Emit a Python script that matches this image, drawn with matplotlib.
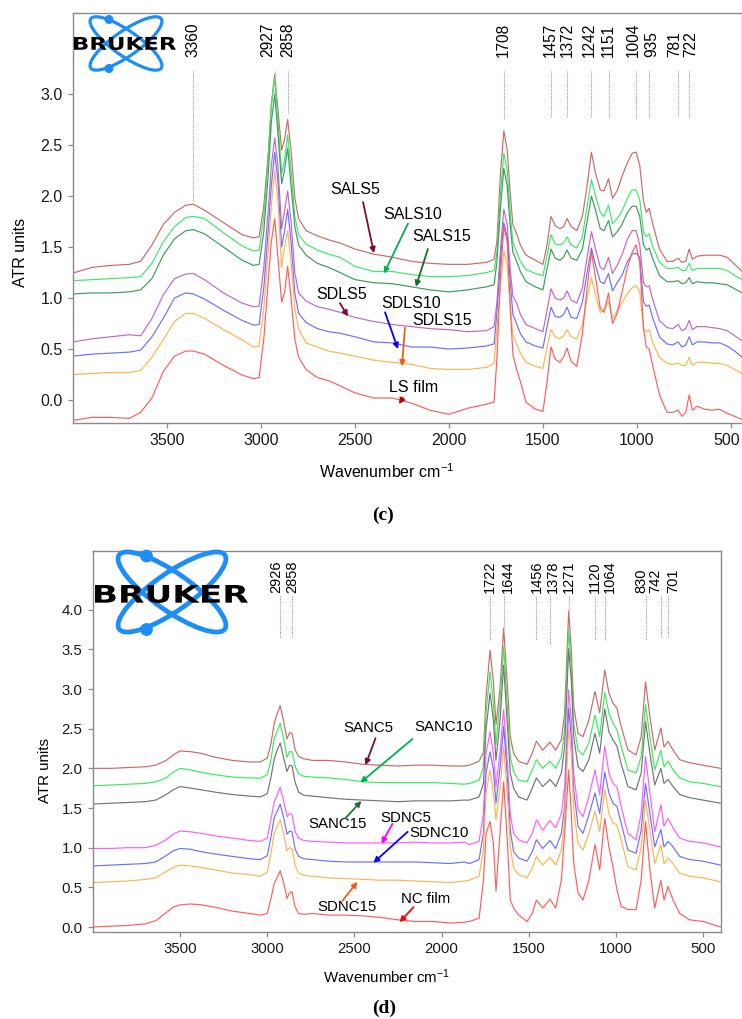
import matplotlib
matplotlib.use("Agg")
import matplotlib.pyplot as plt
from matplotlib.patches import Ellipse, Circle, PathPatch
from matplotlib.textpath import TextPath
from matplotlib.font_manager import FontProperties
from matplotlib.transforms import Affine2D, ScaledTranslation

plt.rcParams["font.family"] = ["Liberation Sans", "DejaVu Sans"]
plt.rcParams["mathtext.default"] = "regular"

# ---------------------------------------------------------------- panel (c)
WN_C = [4000, 3900, 3800, 3700, 3640, 3580, 3520, 3460, 3400, 3360,
        3300, 3200, 3100, 3040, 3010, 2985, 2960, 2945, 2927, 2910,
        2890, 2875, 2858, 2840, 2820, 2800, 2760, 2700, 2640, 2580,
        2500, 2400, 2300, 2200, 2100, 2000, 1900,
        1800, 1760, 1745, 1725, 1708, 1690, 1675, 1660, 1640, 1620,
        1590, 1540, 1500, 1480, 1457, 1435, 1410, 1390, 1372, 1350,
        1320, 1290, 1265, 1242, 1220, 1195, 1175, 1151, 1130, 1105,
        1080, 1050, 1025, 1004, 985, 965, 950, 935, 915, 880,
        840, 810, 781, 760, 740, 722, 705, 680, 640, 600,
        560, 520, 480, 440]

SALS5 = [1.245, 1.30, 1.32, 1.33, 1.36, 1.52, 1.72, 1.84, 1.91, 1.92,
         1.86, 1.74, 1.62, 1.59, 1.60, 1.90, 2.45, 2.90, 3.19, 2.85,
         2.45, 2.55, 2.75, 2.45, 1.98, 1.78, 1.66, 1.61, 1.57, 1.54,
         1.48, 1.43, 1.40, 1.36, 1.34, 1.33, 1.33,
         1.35, 1.38, 1.55, 2.25, 2.64, 2.45, 2.05, 1.72, 1.63, 1.52,
         1.42, 1.37, 1.33, 1.50, 1.80, 1.71, 1.68, 1.70, 1.78, 1.70,
         1.66, 1.80, 2.10, 2.43, 2.22, 2.06, 2.05, 2.17, 1.98, 2.05,
         2.19, 2.33, 2.42, 2.43, 2.30, 1.95, 1.84, 1.88, 1.72, 1.48,
         1.36, 1.36, 1.39, 1.35, 1.36, 1.48, 1.38, 1.41, 1.42, 1.42,
         1.42, 1.40, 1.33, 1.26]
SALS10 = [1.17, 1.18, 1.19, 1.20, 1.21, 1.34, 1.55, 1.70, 1.79, 1.80,
          1.78, 1.64, 1.51, 1.46, 1.47, 1.80, 2.40, 2.88, 3.16, 2.75,
          2.22, 2.35, 2.60, 2.25, 1.80, 1.62, 1.53, 1.47, 1.43, 1.40,
          1.31, 1.26, 1.26, 1.23, 1.21, 1.21, 1.22,
          1.25, 1.27, 1.45, 2.05, 2.42, 2.25, 1.85, 1.55, 1.45, 1.36,
          1.28, 1.24, 1.22, 1.40, 1.62, 1.53, 1.52, 1.54, 1.60, 1.52,
          1.49, 1.60, 1.90, 2.16, 2.00, 1.84, 1.80, 1.91, 1.73, 1.78,
          1.85, 1.98, 2.06, 2.06, 1.96, 1.65, 1.60, 1.63, 1.50, 1.35,
          1.29, 1.29, 1.30, 1.27, 1.27, 1.34, 1.27, 1.29, 1.29, 1.29,
          1.29, 1.27, 1.22, 1.18]
SALS15 = [1.04, 1.05, 1.05, 1.06, 1.08, 1.19, 1.42, 1.58, 1.66, 1.67,
          1.63, 1.50, 1.37, 1.32, 1.33, 1.65, 2.25, 2.72, 3.00, 2.62,
          2.12, 2.25, 2.47, 2.10, 1.70, 1.52, 1.42, 1.34, 1.30, 1.25,
          1.18, 1.15, 1.14, 1.11, 1.08, 1.06, 1.08,
          1.11, 1.13, 1.35, 1.90, 2.27, 2.10, 1.72, 1.45, 1.36, 1.26,
          1.16, 1.11, 1.08, 1.27, 1.48, 1.39, 1.37, 1.40, 1.47, 1.39,
          1.37, 1.48, 1.75, 2.00, 1.86, 1.68, 1.66, 1.76, 1.60, 1.65,
          1.72, 1.84, 1.90, 1.90, 1.80, 1.52, 1.47, 1.49, 1.38, 1.22,
          1.16, 1.16, 1.17, 1.14, 1.15, 1.20, 1.14, 1.16, 1.15, 1.15,
          1.14, 1.13, 1.09, 1.05]
SDLS5 = [0.57, 0.60, 0.62, 0.64, 0.63, 0.80, 1.03, 1.19, 1.235, 1.24,
         1.18, 1.05, 0.95, 0.915, 0.92, 1.30, 1.90, 2.30, 2.57, 2.30,
         1.68, 1.85, 2.05, 1.75, 1.25, 1.05, 0.97, 0.915, 0.89, 0.86,
         0.81, 0.77, 0.74, 0.72, 0.70, 0.69, 0.67,
         0.68, 0.72, 0.95, 1.50, 1.87, 1.72, 1.30, 1.02, 0.95, 0.84,
         0.74, 0.70, 0.67, 0.86, 1.09, 1.00, 0.98, 1.00, 1.07, 0.98,
         0.95, 1.10, 1.40, 1.65, 1.48, 1.30, 1.28, 1.40, 1.24, 1.32,
         1.42, 1.58, 1.66, 1.66, 1.52, 1.15, 1.11, 1.12, 0.98, 0.78,
         0.71, 0.70, 0.74, 0.68, 0.70, 0.78, 0.69, 0.72, 0.72, 0.71,
         0.70, 0.68, 0.63, 0.58]
SDLS10 = [0.43, 0.45, 0.46, 0.47, 0.49, 0.62, 0.80, 1.00, 1.05, 1.04,
          0.99, 0.88, 0.78, 0.735, 0.74, 1.10, 1.70, 2.10, 2.43, 2.15,
          1.50, 1.65, 1.87, 1.55, 1.05, 0.85, 0.76, 0.70, 0.67, 0.655,
          0.62, 0.57, 0.56, 0.52, 0.52, 0.50, 0.51,
          0.53, 0.55, 0.85, 1.40, 1.74, 1.60, 1.18, 0.84, 0.75, 0.65,
          0.57, 0.53, 0.51, 0.70, 0.91, 0.82, 0.81, 0.84, 0.91, 0.81,
          0.80, 0.96, 1.25, 1.49, 1.32, 1.16, 1.14, 1.24, 1.07, 1.15,
          1.22, 1.36, 1.43, 1.44, 1.40, 0.96, 0.92, 0.93, 0.80, 0.62,
          0.55, 0.54, 0.57, 0.52, 0.54, 0.62, 0.54, 0.57, 0.57, 0.56,
          0.56, 0.53, 0.48, 0.42]
SDLS15 = [0.25, 0.26, 0.27, 0.27, 0.29, 0.42, 0.59, 0.77, 0.85, 0.85,
          0.80, 0.69, 0.59, 0.52, 0.53, 0.90, 1.50, 1.90, 2.25, 1.95,
          1.30, 1.50, 1.66, 1.35, 0.90, 0.70, 0.56, 0.52, 0.48, 0.46,
          0.43, 0.39, 0.37, 0.35, 0.31, 0.30, 0.30,
          0.32, 0.36, 0.70, 1.15, 1.46, 1.32, 0.95, 0.64, 0.55, 0.46,
          0.37, 0.33, 0.31, 0.50, 0.69, 0.62, 0.60, 0.63, 0.69, 0.62,
          0.60, 0.74, 1.00, 1.20, 1.02, 0.86, 0.88, 0.96, 0.80, 0.88,
          0.95, 1.05, 1.10, 1.12, 1.06, 0.70, 0.67, 0.69, 0.56, 0.42,
          0.36, 0.35, 0.36, 0.34, 0.34, 0.42, 0.34, 0.37, 0.37, 0.36,
          0.36, 0.34, 0.30, 0.26]
LS_FILM = [-0.20, -0.17, -0.17, -0.18, -0.12, 0.02, 0.28, 0.43, 0.48, 0.48,
           0.45, 0.34, 0.245, 0.21, 0.22, 0.60, 1.20, 1.55, 1.78, 1.40,
           0.96, 1.05, 1.31, 1.00, 0.60, 0.42, 0.30, 0.22, 0.19, 0.14,
           0.07, 0.02, 0.02, -0.03, -0.10, -0.14, -0.08,
           -0.04, -0.02, 0.40, 1.25, 1.70, 1.55, 0.95, 0.45, 0.30, 0.18,
           -0.02, -0.09, -0.11, 0.15, 0.52, 0.40, 0.37, 0.42, 0.51, 0.38,
           0.33, 0.65, 1.10, 1.45, 1.20, 0.90, 0.86, 1.05, 0.75, 0.85,
           1.05, 1.30, 1.45, 1.52, 1.35, 0.70, 0.52, 0.50, 0.33, 0.05,
           -0.12, -0.12, -0.10, -0.16, -0.12, 0.05, -0.10, -0.06, -0.09, -0.10,
           -0.09, -0.13, -0.16, -0.19]

NAMES_C = ["SALS5", "SALS10", "SALS15", "SDLS5", "SDLS10", "SDLS15", "LS film"]
PEAKS_C = [3360, 2927, 2858, 1708, 1457, 1372, 1242, 1151, 1004, 935, 781, 722]

# ---------------------------------------------------------------- panel (d)
WN_D = [4000, 3900, 3800, 3700, 3640, 3580, 3540, 3500, 3440, 3380,
        3300, 3200, 3100, 3040, 3000, 2980, 2960, 2945, 2926, 2905,
        2887, 2872, 2858, 2840, 2820, 2790, 2740, 2650, 2550, 2450,
        2350, 2250, 2150, 2050, 1950, 1870,
        1840, 1785, 1760, 1745, 1722, 1703, 1688, 1665, 1644, 1621,
        1606, 1587, 1558, 1510, 1480, 1456, 1420, 1378, 1345, 1313,
        1294, 1271, 1256, 1242, 1217, 1189, 1155, 1120, 1093, 1064,
        1040, 1017, 994, 970, 931, 884, 855, 830, 805, 777,
        742, 724, 701, 672, 634, 577, 500, 400]

SANC5 = [2.00, 2.00, 2.01, 2.02, 2.04, 2.10, 2.17, 2.22, 2.21, 2.19,
         2.14, 2.10, 2.08, 2.08, 2.13, 2.30, 2.57, 2.68, 2.79, 2.58,
         2.37, 2.45, 2.44, 2.23, 2.15, 2.12, 2.10, 2.10, 2.08, 2.05,
         2.04, 2.03, 2.04, 2.04, 2.03, 2.03,
         2.04, 2.09, 2.20, 2.90, 3.49, 3.10, 2.55, 3.00, 3.77, 2.99,
         2.40, 2.19, 2.09, 2.05, 2.19, 2.34, 2.23, 2.33, 2.23, 2.36,
         2.70, 3.98, 3.50, 2.78, 2.44, 2.40, 2.61, 2.97, 2.70, 3.24,
         2.95, 2.82, 2.76, 2.53, 2.23, 2.17, 2.40, 3.09, 2.65, 2.23,
         2.51, 2.27, 2.34, 2.23, 2.11, 2.07, 2.04, 2.00]
SANC10 = [1.78, 1.79, 1.80, 1.81, 1.83, 1.88, 1.95, 2.00, 1.98, 1.95,
          1.92, 1.89, 1.88, 1.875, 1.92, 2.10, 2.38, 2.46, 2.57, 2.36,
          2.14, 2.21, 2.21, 2.02, 1.93, 1.90, 1.89, 1.88, 1.86, 1.83,
          1.82, 1.82, 1.82, 1.82, 1.81, 1.80,
          1.81, 1.85, 2.02, 2.70, 3.22, 2.82, 2.30, 2.85, 3.53, 2.70,
          2.15, 1.96, 1.85, 1.83, 1.98, 2.11, 2.00, 2.09, 2.00, 2.15,
          2.49, 3.75, 3.28, 2.57, 2.23, 2.17, 2.32, 2.67, 2.40, 2.96,
          2.70, 2.57, 2.49, 2.28, 1.98, 1.94, 2.15, 2.80, 2.40, 1.98,
          2.23, 2.02, 2.09, 1.98, 1.88, 1.83, 1.81, 1.77]
SANC15 = [1.55, 1.56, 1.57, 1.58, 1.60, 1.67, 1.73, 1.77, 1.75, 1.73,
          1.70, 1.67, 1.65, 1.64, 1.68, 1.88, 2.12, 2.22, 2.32, 2.12,
          1.96, 2.04, 2.03, 1.82, 1.70, 1.66, 1.65, 1.63, 1.61, 1.60,
          1.59, 1.58, 1.59, 1.59, 1.59, 1.60,
          1.60, 1.64, 1.81, 2.49, 2.95, 2.61, 2.10, 2.60, 3.30, 2.49,
          1.94, 1.75, 1.64, 1.60, 1.75, 1.88, 1.77, 1.86, 1.77, 1.94,
          2.28, 3.51, 3.11, 2.40, 2.02, 1.96, 2.11, 2.44, 2.19, 2.75,
          2.46, 2.36, 2.28, 2.06, 1.77, 1.73, 1.94, 2.59, 2.19, 1.79,
          2.00, 1.81, 1.86, 1.77, 1.67, 1.63, 1.60, 1.56]
SDNC5 = [0.99, 0.99, 1.00, 1.00, 1.03, 1.10, 1.17, 1.21, 1.20, 1.18,
         1.15, 1.12, 1.09, 1.08, 1.12, 1.35, 1.58, 1.66, 1.76, 1.58,
         1.39, 1.43, 1.42, 1.20, 1.12, 1.09, 1.08, 1.07, 1.06, 1.06,
         1.06, 1.06, 1.07, 1.06, 1.06, 1.07,
         1.04, 1.08, 1.43, 2.19, 2.46, 2.19, 1.77, 2.20, 2.74, 2.02,
         1.43, 1.18, 1.10, 1.06, 1.18, 1.35, 1.22, 1.34, 1.25, 1.43,
         1.77, 2.99, 2.61, 1.94, 1.48, 1.39, 1.64, 1.98, 1.67, 2.28,
         1.94, 1.81, 1.77, 1.52, 1.18, 1.10, 1.43, 2.15, 1.69, 1.20,
         1.54, 1.27, 1.37, 1.25, 1.12, 1.08, 1.06, 1.01]
SDNC10 = [0.77, 0.78, 0.79, 0.80, 0.82, 0.90, 0.96, 0.99, 0.98, 0.95,
          0.92, 0.89, 0.86, 0.85, 0.90, 1.12, 1.38, 1.45, 1.55, 1.37,
          1.17, 1.21, 1.20, 0.98, 0.89, 0.86, 0.85, 0.83, 0.82, 0.82,
          0.82, 0.82, 0.82, 0.81, 0.80, 0.82,
          0.80, 0.85, 1.18, 1.94, 2.21, 1.98, 1.56, 2.00, 2.53, 1.85,
          1.22, 0.95, 0.87, 0.83, 0.95, 1.10, 0.99, 1.09, 0.99, 1.18,
          1.52, 2.76, 2.40, 1.73, 1.27, 1.18, 1.41, 1.69, 1.43, 1.95,
          1.69, 1.56, 1.52, 1.31, 0.97, 0.93, 1.22, 1.81, 1.43, 1.01,
          1.23, 1.01, 1.08, 1.01, 0.89, 0.85, 0.83, 0.78]
SDNC15 = [0.56, 0.57, 0.58, 0.60, 0.62, 0.70, 0.75, 0.78, 0.77, 0.75,
          0.72, 0.68, 0.66, 0.64, 0.69, 0.92, 1.18, 1.26, 1.35, 1.16,
          0.96, 1.00, 0.99, 0.78, 0.68, 0.65, 0.64, 0.62, 0.61, 0.60,
          0.59, 0.59, 0.58, 0.57, 0.56, 0.58,
          0.59, 0.64, 0.97, 1.69, 1.98, 1.69, 1.35, 1.75, 2.28, 1.60,
          1.01, 0.74, 0.66, 0.62, 0.74, 0.89, 0.78, 0.88, 0.78, 0.97,
          1.35, 2.53, 2.19, 1.48, 1.06, 0.97, 1.18, 1.46, 1.20, 1.73,
          1.43, 1.31, 1.29, 1.10, 0.76, 0.72, 1.01, 1.60, 1.22, 0.80,
          1.04, 0.80, 0.87, 0.80, 0.68, 0.64, 0.62, 0.57]
NC_FILM = [0.00, 0.01, 0.02, 0.04, 0.08, 0.18, 0.25, 0.28, 0.29, 0.28,
           0.25, 0.20, 0.17, 0.15, 0.17, 0.35, 0.55, 0.62, 0.71, 0.55,
           0.36, 0.43, 0.445, 0.25, 0.17, 0.16, 0.17, 0.15, 0.15, 0.14,
           0.12, 0.09, 0.07, 0.07, 0.05, 0.06,
           0.07, 0.11, 0.59, 1.18, 1.33, 1.06, 0.45, 1.18, 1.83, 1.01,
           0.34, 0.24, 0.15, 0.07, 0.17, 0.34, 0.24, 0.35, 0.24, 0.59,
           1.18, 1.98, 1.43, 0.80, 0.43, 0.34, 0.59, 1.04, 0.72, 1.37,
           1.01, 0.76, 0.47, 0.26, 0.22, 0.22, 0.59, 1.33, 0.72, 0.24,
           0.59, 0.34, 0.51, 0.34, 0.17, 0.09, 0.07, 0.00]

NAMES_D = ["SANC5", "SANC10", "SANC15", "SDNC5", "SDNC10", "SDNC15", "NC film"]
PEAKS_D = [2926, 2858, 1722, 1644, 1456, 1378, 1271, 1120, 1064, 830, 742, 701]

CURVE_COLORS_C = ["#c96a6a", "#3be86a", "#3c9c5c", "#c466c4", "#6e6eff", "#ffb44d", "#ff5c5c"]
CURVE_COLORS_D = ["#c96a6a", "#38ec5a", "#747474", "#ff5cff", "#6e6eff", "#ffb44d", "#ff5c5c"]
BLUE = "#1c8ef9"

fig = plt.figure(figsize=(7.42, 10.19), dpi=100)
W, H = 742.0, 1019.0


def panel_axes(left, top, right, bottom):
    return fig.add_axes([left / W, 1 - bottom / H, (right - left) / W, (bottom - top) / H])


def draw_panel(ax, wn, curves, colors, xlim, ylim, yticks, fs):
    for y, c in zip(curves, colors):
        ax.plot(wn, y, color=c, lw=0.85, solid_joinstyle="round")
    ax.set_xlim(*xlim)
    ax.set_ylim(*ylim)
    ax.set_xticks([3500, 3000, 2500, 2000, 1500, 1000, 500])
    ax.set_yticks(yticks)
    ax.set_yticklabels([f"{v:.1f}" for v in yticks])
    for s in ax.spines.values():
        s.set_color("#8a8a8a")
        s.set_linewidth(1.0)
    ax.tick_params(direction="out", length=3.5, width=0.9, color="#8a8a8a",
                   labelsize=fs, pad=4, labelcolor="#1a1a1a")
    ax.set_xlabel("Wavenumber cm$^{-1}$", fontsize=fs)
    ax.set_ylabel("ATR units", fontsize=fs)


def draw_peaks(ax, peaks, text_x, text_y, line_top, line_bottoms, fs):
    # dotted guide under each band label; labels nudged apart where crowded
    for p, tx, lb in zip(peaks, text_x, line_bottoms):
        ax.plot([p, p], [line_top, lb], color="#9a9a9a", lw=0.8, ls=(0, (1, 1)), zorder=1)
        ax.text(tx, text_y, str(p), rotation=90, ha="center", va="bottom", fontsize=fs)


def draw_notes(ax, names, notes, fs):
    for name, (txy, start, end, c) in zip(names, notes):
        ax.text(txy[0], txy[1], name, ha="center", va="center", fontsize=fs, zorder=6)
        ax.annotate("", xy=end, xytext=start, zorder=6,
                    arrowprops=dict(arrowstyle="-|>", color=c, lw=1.3,
                                    mutation_scale=8, shrinkA=0, shrinkB=0))


# panel (c)
ax_c = panel_axes(73, 13, 742, 423)
draw_panel(ax_c, WN_C, [SALS5, SALS10, SALS15, SDLS5, SDLS10, SDLS15, LS_FILM],
           CURVE_COLORS_C, (4000, 441), (-0.225, 3.794),
           [0.0, 0.5, 1.0, 1.5, 2.0, 2.5, 3.0], 11.5)
ax_c.xaxis.set_label_coords(0.469, -0.095)
ax_c.yaxis.set_label_coords(-0.067, 0.417)
# keep the last tick label inside the figure edge
last = ax_c.get_xticklabels()[-1]
last.set_transform(last.get_transform() + ScaledTranslation(-0.04, 0, fig.dpi_scale_trans))
draw_peaks(ax_c, PEAKS_C,
           [3360, 2962, 2856, 1708, 1460, 1370, 1254, 1151, 1017, 919, 798, 716],
           3.36, 3.23,
           [1.95, 3.19, 2.80, 2.75, 2.77, 2.77, 2.77, 2.77, 2.75, 2.77, 2.78, 2.77], 11.2)
draw_notes(ax_c, NAMES_C, [
    ((2500, 2.06), (2457, 1.94), (2399, 1.44), "#7b0d2e"),
    ((2191, 1.82), (2218, 1.73), (2346, 1.24), "#00b050"),
    ((2037, 1.60), (2112, 1.48), (2176, 1.11), "#1d6b2c"),
    ((2569, 1.03), (2580, 0.95), (2537, 0.82), "#7b0d2e"),
    ((2202, 0.95), (2340, 0.86), (2271, 0.50), "#0000ff"),
    ((2037, 0.78), (2234, 0.71), (2250, 0.33), "#e8601c"),
    ((2186, 0.12), (2245, 0.02), (2266, -0.04), "#c00000"),
], 11.5)

# panel (d)
ax_d = panel_axes(93, 551, 721, 932)
draw_panel(ax_d, WN_D, [SANC5, SANC10, SANC15, SDNC5, SDNC10, SDNC15, NC_FILM],
           CURVE_COLORS_D, (4000, 397), (-0.063, 4.74),
           [0.0, 0.5, 1.0, 1.5, 2.0, 2.5, 3.0, 3.5, 4.0], 10.8)
ax_d.xaxis.set_label_coords(0.468, -0.092)
ax_d.yaxis.set_label_coords(-0.065, 0.425)
draw_peaks(ax_d, PEAKS_D,
           [2950, 2858, 1722, 1620, 1456, 1360, 1271, 1120, 1034, 854, 772, 670],
           4.21, 4.17,
           [3.64, 3.64, 3.60, 3.77, 3.62, 3.57, 3.98, 3.62, 3.60, 3.62, 3.64, 3.64], 10.5)
draw_notes(ax_d, NAMES_D, [
    ((2420, 2.51), (2379, 2.38), (2437, 2.04), "#7b0d2e"),
    ((1989, 2.52), (2167, 2.37), (2466, 1.82), "#00b050"),
    ((2598, 1.30), (2552, 1.37), (2460, 1.59), "#2e6b3a"),
    ((2207, 1.37), (2282, 1.30), (2345, 1.05), "#ff00ff"),
    ((2017, 1.19), (2195, 1.20), (2391, 0.81), "#0000ff"),
    ((2540, 0.25), (2569, 0.33), (2483, 0.57), "#e8601c"),
    ((2092, 0.35), (2161, 0.25), (2241, 0.06), "#ff0000"),
], 10.8)

# overlay in pixel units for the logos and the panel letters
ov = fig.add_axes([0, 0, 1, 1], zorder=10)
ov.set_xlim(0, W)
ov.set_ylim(H, 0)
ov.axis("off")
ov.patch.set_alpha(0)


def draw_logo(cx, cy, s, box):
    for ang in (35, -35):
        ov.add_patch(Ellipse((cx, cy), 86 * s, 25 * s, angle=ang, fill=False,
                             ec=BLUE, lw=2.3 * s))
    for dy in (-24, 25):
        ov.add_patch(Circle((cx - 17 * s, cy + dy * s), 3.8 * s, color=BLUE))
    tp = TextPath((0, 0), "BRUKER", size=1,
                  prop=FontProperties(family="DejaVu Sans", weight="bold"))
    ext = tp.get_extents()
    x0, x1, y0, y1 = box
    tr = (Affine2D().translate(-ext.x0, -ext.y0)
          .scale((x1 - x0) / ext.width, -(y1 - y0) / ext.height)
          .translate(x0, y1))
    ov.add_patch(PathPatch(tr.transform_path(tp), fc="black", ec="none"))


draw_logo(126, 43.5, 1.0, (74, 176, 37, 50))
draw_logo(172, 592, 1.5, (95, 248, 585, 603))

ov.text(383, 515, "(c)", ha="center", va="center", fontsize=14,
        family="Liberation Serif", weight="bold")
ov.text(384, 1008, "(d)", ha="center", va="center", fontsize=14,
        family="Liberation Serif", weight="bold")

fig.savefig("out.png", dpi=100)
